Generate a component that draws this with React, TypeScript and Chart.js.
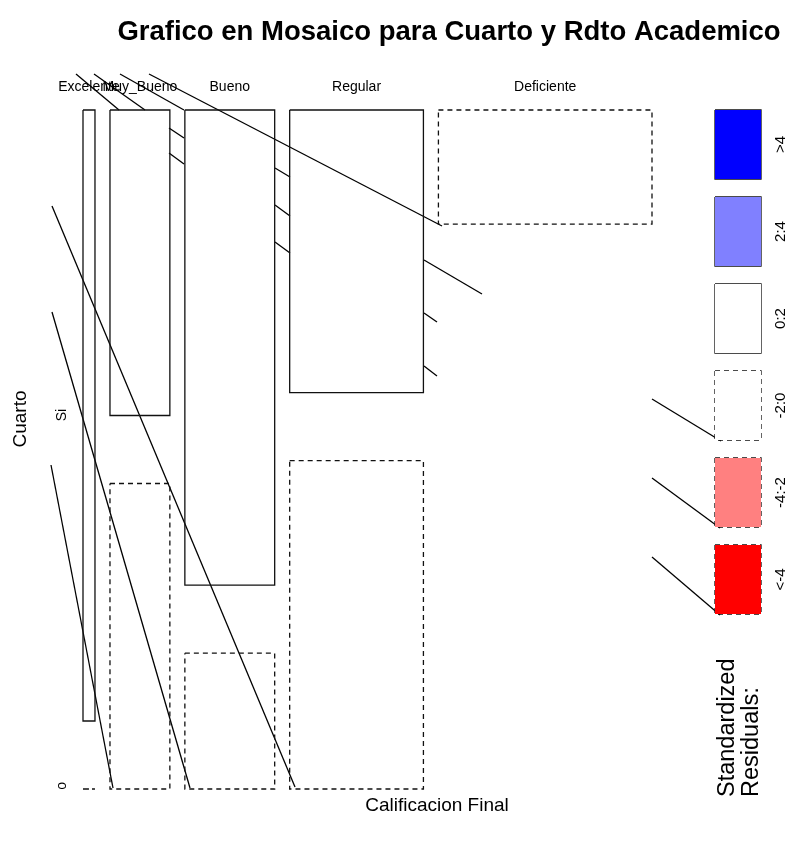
import React, { useEffect, useRef } from "react";
import { Chart, registerables } from "chart.js";

Chart.register(...registerables);

// ---------- data ----------
const chartTitle = "Grafico en Mosaico para Cuarto y Rdto Academico";
const xAxisTitle = "Calificacion Final";
const yAxisTitle = "Cuarto";
const categories = ["Excelente", "Muy_Bueno", "Bueno", "Regular", "Deficiente"];
const rowLevels = ["Si", "No"];
const siCounts = [6, 15, 35, 31, 20];
const noCounts = [0, 15, 10, 36, 87];
// residual class of each cell (null = cell not drawn in the reference)
const siResidualClass = ["0:2", "0:2", "0:2", "0:2", "-2:0"];
const noResidualClass = ["-2:0", "-2:0", "-2:0", "-2:0", null];
const legendLabels = [">4", "2:4", "0:2", "-2:0", "-4:-2", "<-4"];
const legendColors = ["#0000FF", "#8080FF", "#FFFFFF", "#FFFFFF", "#FF8080", "#FF0000"];
const legendDashed = [false, false, false, true, true, true];
const legendTitle = ["Standardized", "Residuals:"];
// stray connector strokes visible in the reference image
const strayLines = [
  [76, 74, 119, 110],
  [94, 74, 145, 110],
  [120, 74, 184, 110],
  [149, 74, 442, 226],
  [169, 128, 184, 138],
  [169, 153, 184, 164],
  [275, 168, 290, 177],
  [275, 205, 290, 216],
  [275, 242, 290, 253],
  [424, 260, 482, 294],
  [424, 313, 437, 322],
  [424, 366, 437, 376],
  [652, 399, 721, 441],
  [652, 478, 720, 528],
  [652, 557, 720, 615],
  [52, 206, 295, 787],
  [52, 312, 190, 788],
  [51, 465, 113, 788],
];

// ---------- layout ----------
const W = 791;
const H = 845;
const PLOT_LEFT = 83;
const PLOT_RIGHT = 652;
const PLOT_TOP = 110;
const PLOT_BOTTOM = 789;
const COL_GAP = 15;
const ROW_GAP = 68;
const LEG_X0 = 715;
const LEG_X1 = 761;
const LEG_TOP = 110;
const LEG_H = 69;
const LEG_STEP = 87;
const FONT = "'Liberation Sans', Arial, Helvetica, sans-serif";
const DASH = [5, 4];
const LW = 1.3;

type Pt = { x: number; y: number };
const rect = (x0: number, y0: number, x1: number, y1: number): Pt[] => [
  { x: x0, y: y0 },
  { x: x1, y: y0 },
  { x: x1, y: y1 },
  { x: x0, y: y1 },
  { x: x0, y: y0 },
];

function buildDatasets() {
  const ds: any[] = [];
  const totals = categories.map((_, i) => siCounts[i] + noCounts[i]);
  const grand = totals.reduce((a, b) => a + b, 0);
  const availW = PLOT_RIGHT - PLOT_LEFT - COL_GAP * (categories.length - 1);
  const availH = PLOT_BOTTOM - PLOT_TOP - ROW_GAP;
  let x = PLOT_LEFT;
  const colCenters: number[] = [];
  const cellBorder = (pts: Pt[], cls: string | null) => {
    if (cls === null) return;
    const dashed = cls.startsWith("-");
    ds.push({
      data: pts,
      showLine: true,
      pointRadius: 0,
      borderColor: "#111",
      borderWidth: LW,
      borderDash: dashed ? DASH : [],
      fill: false,
      tension: 0,
    });
  };
  categories.forEach((_, i) => {
    const w = (availW * totals[i]) / grand;
    const siH = (availH * siCounts[i]) / totals[i];
    const noH = (availH * noCounts[i]) / totals[i];
    cellBorder(rect(x, PLOT_TOP, x + w, PLOT_TOP + siH), siResidualClass[i]);
    cellBorder(rect(x, PLOT_BOTTOM - noH, x + w, PLOT_BOTTOM), noResidualClass[i]);
    colCenters.push(x + w / 2);
    x += w + COL_GAP;
  });
  // legend
  legendLabels.forEach((_, k) => {
    const y0 = LEG_TOP + k * LEG_STEP;
    const y1 = y0 + LEG_H;
    ds.push({
      data: [
        { x: LEG_X0, y: y0 },
        { x: LEG_X1, y: y0 },
      ],
      showLine: true,
      pointRadius: 0,
      borderWidth: 0,
      borderColor: "rgba(0,0,0,0)",
      backgroundColor: legendColors[k],
      fill: { target: { value: y1 } },
    });
    ds.push({
      data: rect(LEG_X0, y0, LEG_X1, y1),
      showLine: true,
      pointRadius: 0,
      borderColor: "#111",
      borderWidth: LW,
      borderDash: legendDashed[k] ? DASH : [],
      fill: false,
      tension: 0,
    });
  });
  strayLines.forEach((s) => {
    ds.push({
      data: [
        { x: s[0], y: s[1] },
        { x: s[2], y: s[3] },
      ],
      showLine: true,
      pointRadius: 0,
      borderColor: "#000",
      borderWidth: LW,
      fill: false,
    });
  });
  return { ds, colCenters };
}

export default function App() {
  const ref = useRef<HTMLCanvasElement>(null);
  useEffect(() => {
    if (!ref.current) return;
    const { ds, colCenters } = buildDatasets();
    const textPlugin = {
      id: "mosaicText",
      afterDraw(chart: any) {
        const ctx = chart.ctx;
        const sx = chart.scales.x;
        const sy = chart.scales.y;
        const px = (v: number) => sx.getPixelForValue(v);
        const py = (v: number) => sy.getPixelForValue(v);
        ctx.save();
        ctx.fillStyle = "#000";
        // title
        ctx.font = `bold 27.5px ${FONT}`;
        ctx.textAlign = "center";
        ctx.textBaseline = "middle";
        ctx.fillText(chartTitle, px(449), py(32));
        // column labels
        ctx.font = `14px ${FONT}`;
        categories.forEach((c, i) => ctx.fillText(c, px(colCenters[i]), py(87)));
        // x title
        ctx.font = `19px ${FONT}`;
        ctx.fillText(xAxisTitle, px(437), py(806));
        const rot = (t: string, x: number, y: number, font: string, align: CanvasTextAlign = "center", base: CanvasTextBaseline = "middle") => {
          ctx.save();
          ctx.translate(px(x), py(y));
          ctx.rotate(-Math.PI / 2);
          ctx.font = font;
          ctx.textAlign = align;
          ctx.textBaseline = base;
          ctx.fillText(t, 0, 0);
          ctx.restore();
        };
        rot(yAxisTitle, 21, 419, `19px ${FONT}`);
        rot(rowLevels[0], 62, 415, `14px ${FONT}`);
        ctx.save();
        ctx.beginPath();
        ctx.rect(0, 0, W, py(789));
        ctx.clip();
        rot(rowLevels[1], 62, 791, `14px ${FONT}`);
        ctx.restore();
        legendLabels.forEach((l, k) => {
          rot(l, 781, LEG_TOP + k * LEG_STEP + LEG_H / 2, `15px ${FONT}`);
        });
        rot(legendTitle[0], 734, 797, `23.5px ${FONT}`, "left", "alphabetic");
        rot(legendTitle[1], 758, 797, `23.5px ${FONT}`, "left", "alphabetic");
        ctx.restore();
      },
    };
    const chart = new Chart(ref.current, {
      type: "scatter",
      data: { datasets: ds },
      options: {
        animation: false,
        responsive: false,
        devicePixelRatio: 1,
        layout: { padding: 0 },
        plugins: { legend: { display: false }, tooltip: { enabled: false }, title: { display: false } },
        scales: {
          x: { type: "linear", min: 0, max: W, display: false },
          y: { type: "linear", min: 0, max: H, reverse: true, display: false },
        },
        elements: { line: { tension: 0 } },
      },
      plugins: [textPlugin],
    });
    return () => chart.destroy();
  }, []);
  return (
    <div style={{ position: "absolute", left: 0, top: 0, width: W, height: H, background: "#fff" }}>
      <canvas ref={ref} width={W} height={H} style={{ display: "block" }} />
    </div>
  );
}
